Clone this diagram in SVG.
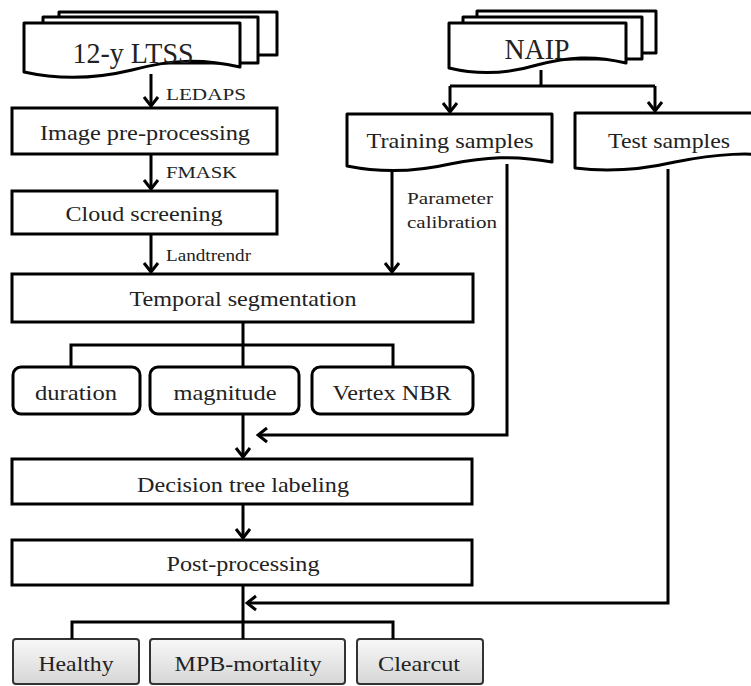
<svg xmlns="http://www.w3.org/2000/svg" width="751" height="686" viewBox="0 0 751 686">
<style>
  .box{fill:#fff;stroke:#000;stroke-width:3}
  .doc{fill:#fff;stroke:#000;stroke-width:3;stroke-linejoin:round}
  .res{fill:url(#grey);stroke:#333;stroke-width:2}
  .t{font-family:"Liberation Serif","Times New Roman",serif;fill:#222;text-anchor:middle}
  .big{font-size:29px}
  .mid{font-size:22px}
  .sm{font-size:16px;text-anchor:start}
  .ln{fill:none;stroke:#000;stroke-width:3}
  .ar{fill:none;stroke:#000;stroke-width:3;marker-end:url(#ah)}
</style>
<defs>
  <linearGradient id="grey" x1="0" y1="0" x2="0" y2="1">
    <stop offset="0" stop-color="#f8f8f8"/>
    <stop offset="1" stop-color="#d6d6d6"/>
  </linearGradient>
  <marker id="ah" viewBox="-11 -9 13 18" markerWidth="13" markerHeight="18" refX="0" refY="0" orient="auto" markerUnits="userSpaceOnUse">
    <path d="M-9,-7 L0,0 L-9,7" fill="none" stroke="#000" stroke-width="3"/>
  </marker>
</defs>

<g id="ltss">
  <rect class="doc" x="59" y="12" width="218" height="43"/>
  <rect class="doc" x="43" y="17" width="215" height="46"/>
  <path class="doc" d="M24,23 H240 V67 C200,58 170,60 132,70 C95,79 60,80 24,72 Z"/>
  <text class="t big" x="133" y="63" textLength="121" lengthAdjust="spacingAndGlyphs">12-y LTSS</text>
</g>
<g id="naip">
  <rect class="doc" x="477" y="11" width="179" height="42"/>
  <rect class="doc" x="463" y="17" width="179" height="42"/>
  <path class="doc" d="M449,23 H626 V63 C593,55 568,57 537,65 C507,74 478,75 449,68 Z"/>
  <text class="t big" x="537" y="59" textLength="65" lengthAdjust="spacingAndGlyphs">NAIP</text>
</g>
<g id="image-preprocessing">
  <rect class="box" x="12" y="108" width="265" height="46"/>
  <text class="t mid" x="145" y="140" textLength="210" lengthAdjust="spacingAndGlyphs">Image pre-processing</text>
</g>
<g id="cloud-screening">
  <rect class="box" x="12" y="191" width="265" height="43"/>
  <text class="t mid" x="144" y="221" textLength="157" lengthAdjust="spacingAndGlyphs">Cloud screening</text>
</g>
<g id="training-samples">
  <path class="doc" d="M347,114 H552 V162 C514,155 485,157 450,164 C415,172 382,173 347,166 Z"/>
  <text class="t mid" x="450" y="148" textLength="167" lengthAdjust="spacingAndGlyphs">Training samples</text>
</g>
<g id="test-samples">
  <path class="doc" d="M575,113 H790 V158 C750,151 715,154 675,162 C640,170 605,172 575,168 Z"/>
  <text class="t mid" x="669" y="148" textLength="122" lengthAdjust="spacingAndGlyphs">Test samples</text>
</g>
<g id="temporal-segmentation">
  <rect class="box" x="12" y="274" width="461" height="48"/>
  <text class="t mid" x="243" y="306" textLength="227" lengthAdjust="spacingAndGlyphs">Temporal segmentation</text>
</g>
<g id="duration">
  <rect class="box" x="13" y="367" width="127" height="47" rx="8"/>
  <text class="t mid" x="76" y="400" textLength="82" lengthAdjust="spacingAndGlyphs">duration</text>
</g>
<g id="magnitude">
  <rect class="box" x="150" y="367" width="149" height="47" rx="8"/>
  <text class="t mid" x="225" y="400" textLength="103" lengthAdjust="spacingAndGlyphs">magnitude</text>
</g>
<g id="vertex-nbr">
  <rect class="box" x="312" y="367" width="161" height="47" rx="8"/>
  <text class="t mid" x="392" y="400" textLength="119" lengthAdjust="spacingAndGlyphs">Vertex NBR</text>
</g>
<g id="decision-tree-labeling">
  <rect class="box" x="12" y="459" width="460" height="45"/>
  <text class="t mid" x="243" y="492" textLength="212" lengthAdjust="spacingAndGlyphs">Decision tree labeling</text>
</g>
<g id="post-processing">
  <rect class="box" x="12" y="540" width="460" height="45"/>
  <text class="t mid" x="243" y="571" textLength="153" lengthAdjust="spacingAndGlyphs">Post-processing</text>
</g>
<g id="healthy">
  <rect class="res" x="13" y="639" width="126" height="45" rx="3"/>
  <text class="t mid" x="76" y="671" textLength="75" lengthAdjust="spacingAndGlyphs">Healthy</text>
</g>
<g id="mpb-mortality">
  <rect class="res" x="150" y="639" width="195" height="45" rx="3"/>
  <text class="t mid" x="248" y="671" textLength="147" lengthAdjust="spacingAndGlyphs">MPB-mortality</text>
</g>
<g id="clearcut">
  <rect class="res" x="357" y="639" width="126" height="45" rx="3"/>
  <text class="t mid" x="419" y="671" textLength="82" lengthAdjust="spacingAndGlyphs">Clearcut</text>
</g>

<g id="connectors">
  <line class="ar" x1="151" y1="74" x2="151" y2="106"/>
  <line class="ar" x1="151" y1="154" x2="151" y2="189"/>
  <line class="ar" x1="151" y1="234" x2="151" y2="272"/>
  <path class="ln" d="M541,70 V86 M450,86 H655"/>
  <line class="ar" x1="450" y1="86" x2="450" y2="112"/>
  <line class="ar" x1="655" y1="86" x2="655" y2="111"/>
  <line class="ar" x1="392" y1="170" x2="392" y2="272"/>
  <path class="ar" d="M507,164 V435 H258"/>
  <path class="ln" d="M243,322 V345 M71,367 V345 H393 V367 M243,345 V367"/>
  <line class="ar" x1="243" y1="414" x2="243" y2="457"/>
  <line class="ar" x1="243" y1="504" x2="243" y2="538"/>
  <path class="ar" d="M668,169 V603 H247"/>
  <path class="ln" d="M243,585 V639 M72,639 V622 H393 V639"/>
</g>

<g id="labels">
  <text class="t sm" x="166" y="100" textLength="80" lengthAdjust="spacingAndGlyphs">LEDAPS</text>
  <text class="t sm" x="166" y="178" textLength="71" lengthAdjust="spacingAndGlyphs">FMASK</text>
  <text class="t sm" x="166" y="261" textLength="85" lengthAdjust="spacingAndGlyphs">Landtrendr</text>
  <text class="t sm" x="407" y="204" textLength="86" lengthAdjust="spacingAndGlyphs">Parameter</text>
  <text class="t sm" x="407" y="228" textLength="90" lengthAdjust="spacingAndGlyphs">calibration</text>
</g>
</svg>
